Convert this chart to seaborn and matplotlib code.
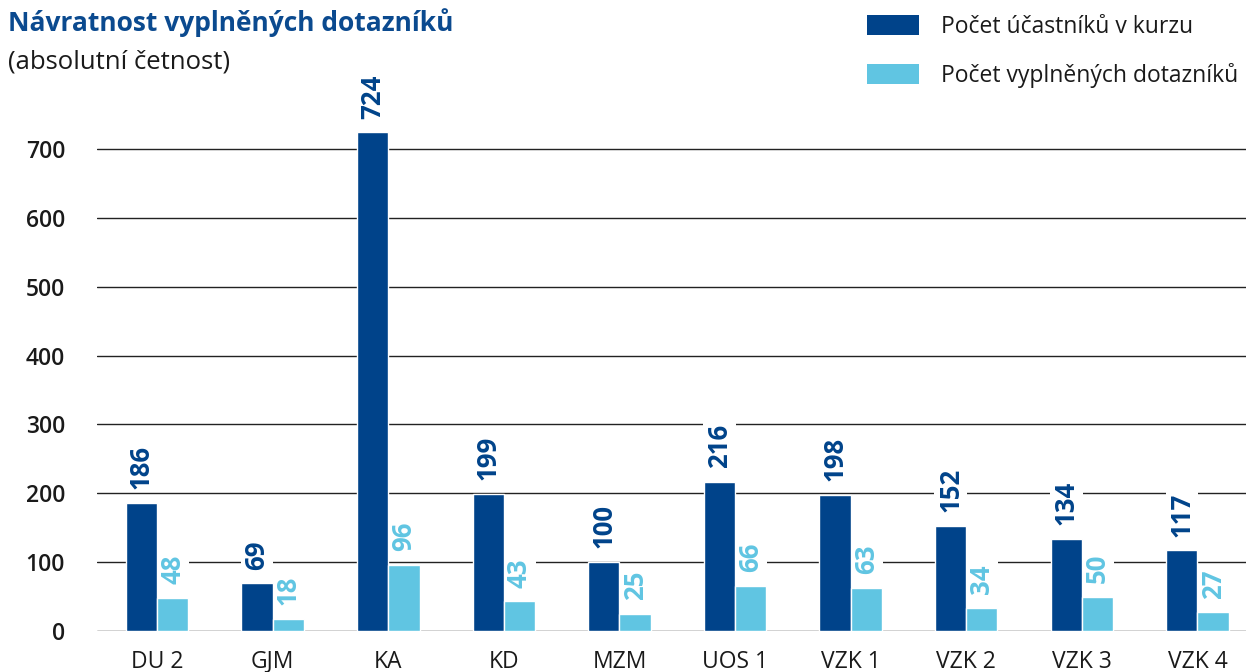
import matplotlib
matplotlib.use("Agg")
import matplotlib.pyplot as plt
import seaborn as sns
import pandas as pd
from matplotlib.patches import Patch

categories = ["DU 2", "GJM", "KA", "KD", "MZM", "UOS 1", "VZK 1", "VZK 2", "VZK 3", "VZK 4"]
ucastnici = [186, 69, 724, 199, 100, 216, 198, 152, 134, 117]
dotazniky = [48, 18, 96, 43, 25, 66, 63, 34, 50, 27]
series_names = ["Počet účastníků v kurzu", "Počet vyplněných dotazníků"]
y_ticks = [0, 100, 200, 300, 400, 500, 600, 700]

DARK = "#00438A"
LIGHT = "#60C5E2"

sns.set_theme(style="white")
plt.rcParams["font.family"] = ["Open Sans", "DejaVu Sans"]

df = pd.DataFrame({
    "kurz": categories * 2,
    "hodnota": ucastnici + dotazniky,
    "serie": [series_names[0]] * len(categories) + [series_names[1]] * len(categories),
})

fig = plt.figure(figsize=(12.46, 6.72), dpi=100)
ax = fig.add_axes([97 / 1246, (672 - 631) / 672, (1246 - 97) / 1246, (631 - 100) / 672])

sns.barplot(data=df, x="kurz", y="hodnota", hue="serie", order=categories,
            hue_order=series_names, palette=[DARK, LIGHT], width=0.54,
            saturation=1, ax=ax, legend=False, zorder=3)

ax.set_xlim(-0.52, 9.42)
ax.set_ylim(0, 700 + (149 - 100) / 68.86 * 100)
ax.set_yticks(y_ticks)
ax.yaxis.grid(True, color="#222222", linewidth=1.0, zorder=0)
ax.set_axisbelow(True)
for s in ax.spines.values():
    s.set_visible(False)
ax.set_xlabel("")
ax.set_ylabel("")
ax.tick_params(axis="x", length=0, pad=26.5, labelsize=16.5, colors="#1a1a1a")
ax.tick_params(axis="y", length=0, pad=23, labelsize=16.5, colors="#1a1a1a")
for t in ax.get_xticklabels():
    t.set_verticalalignment("baseline")
for t in ax.get_yticklabels():
    t.set_fontweight("semibold")

for container, col in zip(ax.containers, [DARK, LIGHT]):
    ax.bar_label(container, padding=10, rotation=90, color=col, fontsize=18.5,
                 fontweight="bold", clip_on=False, zorder=2,
                 bbox=dict(facecolor="white", edgecolor="none", pad=2))

fig.text(8 / 1246, 1 - 23 / 672, "Návratnost vyplněných dotazníků", color="#0B4A8F",
         fontsize=19, fontweight="bold", va="center", ha="left")
fig.text(8 / 1246, 1 - 62 / 672, "(absolutní četnost)", color="#1a1a1a",
         fontsize=18.5, va="center", ha="left")

handles = [Patch(facecolor=DARK, edgecolor="none"), Patch(facecolor=LIGHT, edgecolor="none")]
fig.legend(handles, series_names, loc="upper left", bbox_to_anchor=(862 / 1246, 1 - 10 / 672),
           frameon=False, fontsize=16.5, handlelength=2.3, handleheight=1.0,
           handletextpad=0.95, labelspacing=1.05, borderaxespad=0, borderpad=0.2,
           labelcolor="#1a1a1a")

fig.savefig("out.png", dpi=100)
